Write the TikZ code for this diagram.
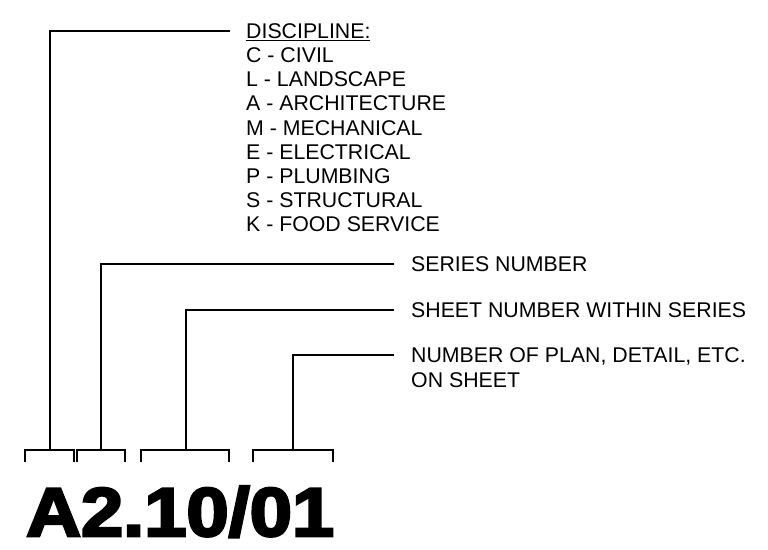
\documentclass[tikz,border=0pt]{standalone}
\usepackage{fontspec}
\setmainfont{Liberation Sans}
\newfontfamily\heavyfont[FakeBold=3.6]{Liberation Sans Bold}
\begin{document}
\begin{tikzpicture}[x=1pt,y=-1pt,
  lead/.style={line width=2pt, line cap=rect},
  brk/.style={line width=2pt},
  txt/.style={anchor=west, inner sep=0pt, text height=15.3pt, text depth=0pt,
              font=\fontsize{21.3}{24.4}\selectfont}]
\useasboundingbox (0,0) rectangle (768,549);

% bracket tops (centres)
\coordinate (b1) at (49.5,450);
\coordinate (b2) at (101,450);
\coordinate (b3) at (185.5,450);
\coordinate (b4) at (293,450);

% brackets
\draw[brk] (25,462) -- (25,450) -- (74,450) -- (74,462);
\draw[brk] (77,462) -- (77,450) -- (125,450) -- (125,462);
\draw[brk] (141,462) -- (141,450) -- (229,450) -- (229,462);
\draw[brk] (253,462) -- (253,450) -- (333,450) -- (333,462);

% texts
\node[txt] (disc) at (246,31) {\underline{DISCIPLINE:}};
\foreach \t [count=\i] in {C - CIVIL, L - LANDSCAPE, A - ARCHITECTURE,
   M - MECHANICAL, E - ELECTRICAL, P - PLUMBING, S - STRUCTURAL, K - FOOD SERVICE}
  \node[txt] (d\i) at (246,{31+\i*24.1}) {\t};

\node[txt] (series) at (411,263.5) {SERIES NUMBER};
\node[txt] (sheet) at (411,309.5) {SHEET NUMBER WITHIN SERIES};
\node[txt] (num) at (411,355) {NUMBER OF PLAN, DETAIL, ETC.};
\node[txt] (num2) at (411,379.5) {ON SHEET};

% leaders
\draw[lead] (b1) |- ([xshift=-17pt]disc.west);
\draw[lead] (b2) |- ([xshift=-18pt]series.west);
\draw[lead] (b3) |- ([xshift=-18pt]sheet.west);
\draw[lead] (b4) |- ([xshift=-18pt]num.west);

% big sheet number
\node[anchor=base west, inner sep=0pt, text depth=0pt,
      font=\heavyfont\fontsize{69}{69}\selectfont]
  (code) at (26,536) {\scalebox{1.1}[1]{A2.10/01}};
\end{tikzpicture}
\end{document}
